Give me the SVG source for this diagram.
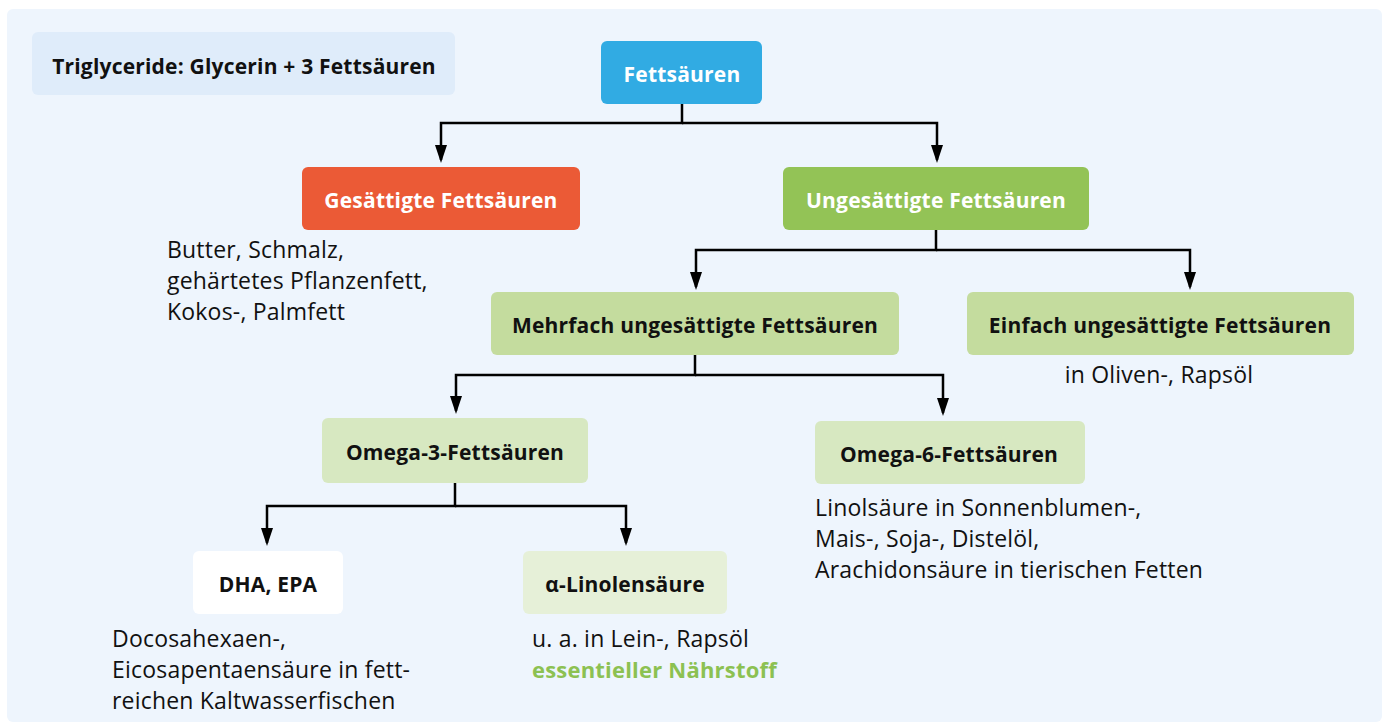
<svg xmlns="http://www.w3.org/2000/svg" width="1385" height="726" viewBox="0 0 1385 726">
<defs>
<marker id="arr" viewBox="0 0 18 12" refX="15" refY="6" markerWidth="18" markerHeight="12" markerUnits="userSpaceOnUse" orient="auto">
<path d="M0,0 L18,6 L0,12 Z" fill="#000"/>
</marker>
<style>
.lbl{font-family:"Open Sans","Noto Sans",sans-serif;font-weight:bold;font-size:21px;letter-spacing:0.2px;text-anchor:middle;dominant-baseline:central;fill:#111}
.w{fill:#fff}
.body{font-family:"Open Sans","Noto Sans",sans-serif;font-size:23px;letter-spacing:0.2px;fill:#111}
.con{fill:none;stroke:#000;stroke-width:2.5}
</style>
</defs>
<rect x="7" y="9" width="1375" height="713" rx="6" fill="#EEF5FD"/>
<g id="triglyceride"><rect x="32" y="32" width="423" height="63" rx="6" fill="#DFECFA"/><text class="lbl" x="244" y="66">Triglyceride: Glycerin + 3 Fettsäuren</text></g>
<g id="connectors">
<path class="con" d="M682,104 V123 H441 V160" marker-end="url(#arr)"/>
<path class="con" d="M682,123 H937 V160" marker-end="url(#arr)"/>
<path class="con" d="M936,230 V250 H696 V287" marker-end="url(#arr)"/>
<path class="con" d="M936,250 H1190 V287" marker-end="url(#arr)"/>
<path class="con" d="M695,355 V375 H456 V411" marker-end="url(#arr)"/>
<path class="con" d="M695,375 H943 V413" marker-end="url(#arr)"/>
<path class="con" d="M455,483 V506 H267 V543" marker-end="url(#arr)"/>
<path class="con" d="M455,506 H626 V543" marker-end="url(#arr)"/>
</g>
<g id="fettsaeuren"><rect x="601" y="41" width="161" height="63" rx="6" fill="#31ABE3"/><text class="lbl w" x="682" y="74">Fettsäuren</text></g>
<g id="gesaettigte"><rect x="302" y="167" width="278" height="63" rx="6" fill="#EB5A36"/><text class="lbl w" x="441" y="200">Gesättigte Fettsäuren</text>
<text class="body" x="167" y="258">Butter, Schmalz,</text><text class="body" x="167" y="289">gehärtetes Pflanzenfett,</text><text class="body" x="167" y="320">Kokos-, Palmfett</text></g>
<g id="ungesaettigte"><rect x="783" y="167" width="306" height="63" rx="6" fill="#93C356"/><text class="lbl w" x="936" y="200">Ungesättigte Fettsäuren</text></g>
<g id="mehrfach"><rect x="491" y="292" width="408" height="63" rx="6" fill="#C4DC9E"/><text class="lbl" x="695" y="325">Mehrfach ungesättigte Fettsäuren</text></g>
<g id="einfach"><rect x="967" y="292" width="387" height="63" rx="6" fill="#C4DC9E"/><text class="lbl" x="1160" y="325">Einfach ungesättigte Fettsäuren</text>
<text class="body" x="1159" y="383" text-anchor="middle">in Oliven-, Rapsöl</text></g>
<g id="omega3"><rect x="322" y="418" width="266" height="65" rx="6" fill="#D7E8C1"/><text class="lbl" x="455" y="452">Omega-3-Fettsäuren</text></g>
<g id="omega6"><rect x="815" y="421" width="270" height="63" rx="6" fill="#D7E8C1"/><text class="lbl" x="949" y="454">Omega-6-Fettsäuren</text>
<text class="body" x="815" y="516">Linolsäure in Sonnenblumen-,</text><text class="body" x="815" y="547">Mais-, Soja-, Distelöl,</text><text class="body" x="815" y="578">Arachidonsäure in tierischen Fetten</text></g>
<g id="dha"><rect x="193" y="551" width="150" height="63" rx="6" fill="#FFFFFF"/><text class="lbl" x="268" y="584">DHA, EPA</text>
<text class="body" x="112" y="647">Docosahexaen-,</text><text class="body" x="112" y="678">Eicosapentaensäure in fett-</text><text class="body" x="112" y="709">reichen Kaltwasserfischen</text></g>
<g id="alpha"><rect x="523" y="551" width="204" height="63" rx="6" fill="#E6F0D8"/><text class="lbl" x="625" y="584">α-Linolensäure</text>
<text class="body" x="532" y="647">u. a. in Lein-, Rapsöl</text><text class="body" x="532" y="678" style="font-weight:bold;font-size:22px;fill:#8CC152">essentieller Nährstoff</text></g>
</svg>
